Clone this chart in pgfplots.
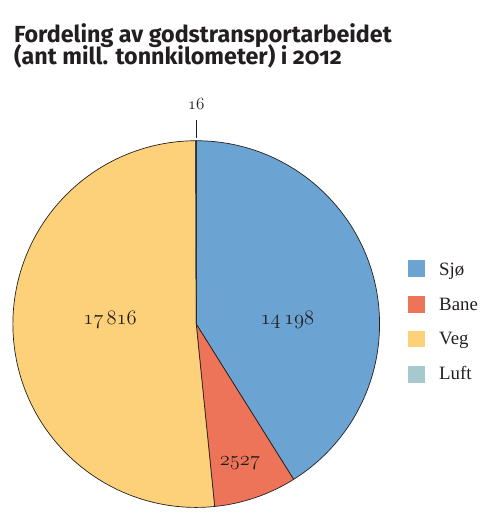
\documentclass[border=0pt]{standalone}
\usepackage{fontspec}
\usepackage{pgfplots}
\usepackage{pgfplotstable}
\pgfplotsset{compat=1.18}
\setmainfont{Liberation Serif}
\newfontfamily\titlefont{Fira Sans}[Numbers=OldStyle]
\newcommand\osf[1]{{\usefont{OML}{cmm}{m}{it}#1}}
\definecolor{sjo}{HTML}{6BA3D2}
\definecolor{bane}{HTML}{EE7459}
\definecolor{veg}{HTML}{FDD17A}
\definecolor{luft}{HTML}{A5C9CD}
\definecolor{txt}{HTML}{231F20}

\pgfplotstableread[col sep=comma]{
name,value,label
Sjø,14198,14\,198
Bane,2527,2527
Veg,17816,17\,816
Luft,16,16
}\piedata

\pgfplotstablegetelem{0}{value}\of\piedata \let\vA\pgfplotsretval
\pgfplotstablegetelem{1}{value}\of\piedata \let\vB\pgfplotsretval
\pgfplotstablegetelem{2}{value}\of\piedata \let\vC\pgfplotsretval
\pgfplotstablegetelem{3}{value}\of\piedata \let\vD\pgfplotsretval
\pgfplotstablegetelem{0}{label}\of\piedata \let\lA\pgfplotsretval
\pgfplotstablegetelem{1}{label}\of\piedata \let\lB\pgfplotsretval
\pgfplotstablegetelem{2}{label}\of\piedata \let\lC\pgfplotsretval
\pgfplotstablegetelem{3}{label}\of\piedata \let\lD\pgfplotsretval
\pgfkeys{/pgf/fpu=true,/pgf/fpu/output format=fixed}
\pgfmathsetmacro\tot{\vA+\vB+\vC+\vD}
\pgfmathsetmacro\aA{90-360*\vA/\tot}
\pgfmathsetmacro\aB{\aA-360*\vB/\tot}
\pgfmathsetmacro\aC{\aB-360*\vC/\tot}
\pgfmathsetmacro\aD{\aC-360*\vD/\tot}
\pgfkeys{/pgf/fpu=false}

\begin{document}
\begin{tikzpicture}
\begin{axis}[x=1bp, y=1bp, xmin=0, xmax=494, ymin=0, ymax=517,
  hide axis, clip=false]
\path (axis cs:0,0) rectangle (axis cs:494,517);
% title
\node[anchor=base west, inner sep=0pt, text=txt, font=\titlefont\bfseries\fontsize{23.5bp}{24bp}\selectfont]
  at (axis cs:14,474) {Fordeling av godstransportarbeidet};
\node[anchor=base west, inner sep=0pt, text=txt, font=\titlefont\bfseries\fontsize{23.5bp}{24bp}\selectfont]
  at (axis cs:14,452) {(ant mill. tonnkilometer) i 2012};
% pie
\begin{scope}[draw=txt, line width=0.7bp, line join=round]
\filldraw[fill=sjo]  (axis cs:198,190) -- ++(90:185bp) arc[start angle=90, end angle=\aA, radius=185bp] -- cycle;
\filldraw[fill=bane] (axis cs:198,190) -- ++(\aA:185bp) arc[start angle=\aA, end angle=\aB, radius=185bp] -- cycle;
\filldraw[fill=veg]  (axis cs:198,190) -- ++(\aB:185bp) arc[start angle=\aB, end angle=\aC, radius=185bp] -- cycle;
\filldraw[fill=luft] (axis cs:198,190) -- ++(\aC:185bp) arc[start angle=\aC, end angle=\aD, radius=185bp] -- cycle;
\end{scope}
\draw[txt, line width=0.7bp] (axis cs:198,378) -- (axis cs:198,396);
% value labels
\node[text=txt, anchor=base, font=\fontsize{19bp}{21bp}\selectfont] at (axis cs:290,190) {\osf{\lA}};
\node[text=txt, anchor=base, font=\fontsize{19bp}{21bp}\selectfont] at (axis cs:242,47) {\osf{\lB}};
\node[text=txt, anchor=base, font=\fontsize{19bp}{21bp}\selectfont] at (axis cs:111,190) {\osf{\lC}};
\node[text=txt, anchor=base, font=\fontsize{16bp}{18bp}\selectfont] at (axis cs:198,407) {\osf{\lD}};
% legend
\fill[sjo]  (axis cs:412,237.5) rectangle (axis cs:429,254.5);
\fill[bane] (axis cs:412,201.5) rectangle (axis cs:429,218.5);
\fill[veg]  (axis cs:412,166.5) rectangle (axis cs:429,183.5);
\fill[luft] (axis cs:412,130.5) rectangle (axis cs:429,147.5);
\node[anchor=base west, inner sep=0pt, text=txt, font=\fontsize{19bp}{21bp}\selectfont] at (axis cs:443,239) {Sjø};
\node[anchor=base west, inner sep=0pt, text=txt, font=\fontsize{19bp}{21bp}\selectfont] at (axis cs:443,204) {Bane};
\node[anchor=base west, inner sep=0pt, text=txt, font=\fontsize{19bp}{21bp}\selectfont] at (axis cs:443,169) {Veg};
\node[anchor=base west, inner sep=0pt, text=txt, font=\fontsize{19bp}{21bp}\selectfont] at (axis cs:443,134) {Luft};
\end{axis}
\end{tikzpicture}
\end{document}
